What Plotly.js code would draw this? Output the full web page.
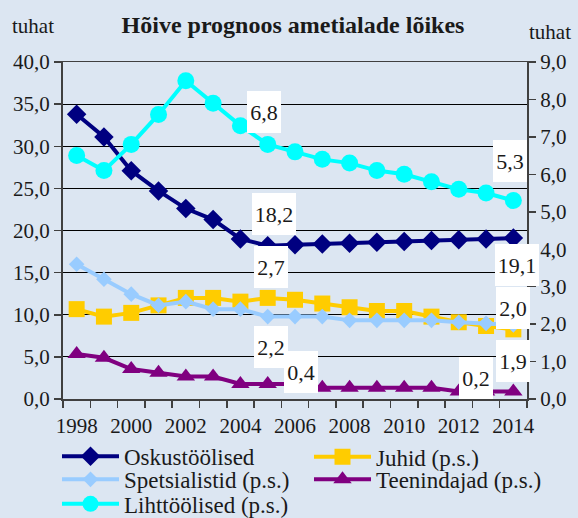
<!DOCTYPE html>
<html>
<head>
<meta charset="utf-8">
<script src="https://cdn.plot.ly/plotly-3.0.1.min.js"></script>
<style>html,body{margin:0;padding:0;background:#dce6f2;}#chart{width:578px;height:518px;}</style>
</head>
<body>
<div id="chart"></div>
<script>
// ---- data ----
const years = [1998, 1999, 2000, 2001, 2002, 2003, 2004, 2005, 2006, 2007, 2008, 2009, 2010, 2011, 2012, 2013, 2014];
const tickYears = [1998, 2000, 2002, 2004, 2006, 2008, 2010, 2012, 2014];
const oskustoolised = [33.8, 31.1, 27.1, 24.7, 22.6, 21.3, 19.0, 18.2, 18.3, 18.4, 18.5, 18.6, 18.7, 18.8, 18.9, 19.0, 19.1];
const juhid = [2.4, 2.2, 2.3, 2.5, 2.7, 2.7, 2.6, 2.7, 2.65, 2.55, 2.45, 2.35, 2.35, 2.2, 2.05, 1.95, 1.86];
const spetsialistid = [3.6, 3.2, 2.8, 2.5, 2.6, 2.4, 2.4, 2.2, 2.2, 2.2, 2.1, 2.1, 2.1, 2.1, 2.05, 2.02, 1.98];
const teenindajad = [1.2, 1.1, 0.8, 0.7, 0.6, 0.6, 0.4, 0.4, 0.4, 0.3, 0.3, 0.3, 0.3, 0.3, 0.2, 0.2, 0.2];
const lihttoolised = [6.5, 6.1, 6.8, 7.6, 8.5, 7.9, 7.3, 6.8, 6.6, 6.4, 6.3, 6.1, 6.0, 5.8, 5.6, 5.5, 5.3];
const seriesNames = ['Oskustöölised', 'Juhid (p.s.)', 'Spetsialistid (p.s.)', 'Teenindajad (p.s.)', 'Lihttöölised (p.s.)'];

// ---- geometry / style ----
const W = 578, H = 518;
const M = {l: 63, r: 51, t: 61.5, b: 119};
const PW = W - M.l - M.r, PH = H - M.t - M.b;
const px2x = p => (p - M.l) / PW;
const py2y = p => (M.t + PH - p) / PH;
const FONT = "'Liberation Serif', 'DejaVu Serif', serif";
const BG = '#dce6f2';
const AX = '#404040';
const TXT = '#1a1a1a';
const fmt = v => v.toFixed(1).replace('.', ',');

const traces = [
  {name: seriesNames[0], y: oskustoolised, yaxis: 'y', color: '#000080', symbol: 'diamond', size: 15, legend: 'legend'},
  {name: seriesNames[1], y: juhid, yaxis: 'y2', color: '#ffcc00', symbol: 'square', size: 16, legend: 'legend2'},
  {name: seriesNames[2], y: spetsialistid, yaxis: 'y2', color: '#99ccff', symbol: 'diamond', size: 12, legend: 'legend3'},
  {name: seriesNames[3], y: teenindajad, yaxis: 'y2', color: '#800080', symbol: 'triangle-up', size: 16, legend: 'legend4'},
  {name: seriesNames[4], y: lihttoolised, yaxis: 'y2', color: '#00ffff', symbol: 'circle', size: 17, legend: 'legend5'}
].map(s => ({
  type: 'scatter', mode: 'lines+markers', x: years, y: s.y, yaxis: s.yaxis, name: s.name,
  legend: s.legend,
  line: {color: s.color, width: 4},
  marker: {color: s.color, symbol: s.symbol, size: s.size, line: {width: 0}},
  hoverinfo: 'skip'
}));

// data labels: series index, year, offsets (px)
const labelSpec = [
  {s: 4, year: 2005, dx: -4, dy: 32},
  {s: 4, year: 2014, dx: -3, dy: 40},
  {s: 0, year: 2005, dx: 6, dy: 32},
  {s: 0, year: 2014, dx: 4, dy: -27},
  {s: 1, year: 2005, dx: 3, dy: 31},
  {s: 2, year: 2005, dx: 3, dy: -30},
  {s: 3, year: 2006, dx: 6, dy: 12},
  {s: 2, year: 2014, dx: 0, dy: 17},
  {s: 1, year: 2014, dx: 0, dy: -32},
  {s: 3, year: 2013, dx: -10, dy: 13.5}
];
const annotations = labelSpec.map(a => {
  const tr = traces[a.s];
  const i = years.indexOf(a.year);
  const txt = fmt(tr.y[i]);
  return {
    xref: 'x', yref: tr.yaxis, x: a.year, y: tr.y[i], text: txt, showarrow: false,
    xanchor: 'center', yanchor: 'middle', xshift: a.dx, yshift: a.dy,
    bgcolor: '#ffffff', borderpad: 0, borderwidth: 0,
    width: txt.length > 3 ? 44 : 34, height: 42,
    font: {family: FONT, size: 22, color: TXT}
  };
});
annotations.push(
  {xref: 'paper', yref: 'paper', x: px2x(10), y: py2y(25), xanchor: 'left', yanchor: 'middle', text: 'tuhat', showarrow: false, font: {family: FONT, size: 21, color: TXT}},
  {xref: 'paper', yref: 'paper', x: px2x(550), y: py2y(31), xanchor: 'center', yanchor: 'middle', text: 'tuhat', showarrow: false, font: {family: FONT, size: 21, color: TXT}}
);

const legendBase = {xanchor: 'left', yanchor: 'middle', bgcolor: 'rgba(0,0,0,0)', borderwidth: 0,
  font: {family: FONT, size: 23, color: TXT}, itemwidth: 57, orientation: 'v'};
const legPos = [[62, 456.5], [314, 457], [62, 479.5], [314, 479.5], [62, 504]];
const legends = {};
['legend', 'legend2', 'legend3', 'legend4', 'legend5'].forEach((k, i) => {
  legends[k] = Object.assign({}, legendBase, {x: px2x(legPos[i][0] - 5), y: py2y(legPos[i][1])});
});

const layout = Object.assign({
  width: W, height: H,
  margin: {l: M.l, r: M.r, t: M.t, b: M.b, pad: 0, autoexpand: false},
  paper_bgcolor: BG, plot_bgcolor: BG,
  separators: ',.',
  font: {family: FONT, color: TXT, size: 20},
  showlegend: true,
  title: {text: 'Hõive prognoos ametialade lõikes', font: {family: FONT, size: 24, weight: 'bold', color: TXT},
          xref: 'container', yref: 'container', x: 293 / W, y: 1 - 25 / H, xanchor: 'center', yanchor: 'middle'},
  xaxis: {
    type: 'linear', range: [years[0] - 0.5, years[years.length - 1] + 0.5],
    tickmode: 'array', tickvals: tickYears, ticktext: tickYears.map(String), ticks: '',
    ticklabelstandoff: 7,
    showgrid: false, zeroline: false, showline: true, linecolor: AX, linewidth: 1.5, mirror: true,
    tickfont: {family: FONT, size: 21, color: TXT},
    minor: {tickmode: 'linear', tick0: years[0] - 0.5, dtick: 1, ticks: 'outside', ticklen: 7, tickcolor: AX, tickwidth: 1.5, showgrid: false}
  },
  yaxis: {
    range: [0, 40], dtick: 5, tick0: 0, tickformat: '.1f',
    showgrid: true, gridcolor: '#000000', gridwidth: 1, zeroline: false,
    showline: true, linecolor: AX, linewidth: 2, ticks: 'outside', ticklen: 7, tickcolor: AX, tickwidth: 1.5,
    tickfont: {family: FONT, size: 21, color: TXT}
  },
  yaxis2: {
    overlaying: 'y', side: 'right', range: [0, 9], dtick: 1, tick0: 0, tickformat: '.1f',
    showgrid: false, zeroline: false,
    showline: true, linecolor: AX, linewidth: 2, ticks: 'outside', ticklen: 7, tickcolor: AX, tickwidth: 1.5,
    tickfont: {family: FONT, size: 21, color: TXT}
  },
  annotations: annotations
}, legends);

Plotly.newPlot('chart', traces, layout, {staticPlot: true, displayModeBar: false});
</script>
</body>
</html>
